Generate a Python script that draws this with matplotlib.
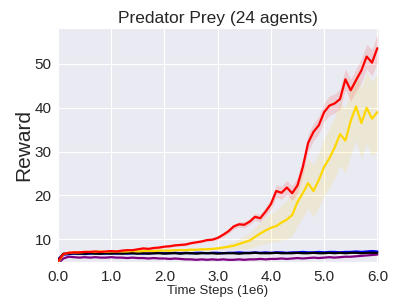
import numpy as np
import matplotlib
matplotlib.use("Agg")
import matplotlib.pyplot as plt
import seaborn as sns

# time steps in millions
steps = [round(0.1 * i, 1) for i in range(61)]

red = [5.0, 6.6, 6.9, 7.0, 7.0, 7.1, 7.1, 7.2, 7.1, 7.2,
       7.3, 7.2, 7.4, 7.5, 7.5, 7.7, 7.9, 7.8, 8.0, 8.1,
       8.3, 8.4, 8.6, 8.7, 8.8, 9.1, 9.3, 9.5, 9.8, 9.9,
       10.3, 11.0, 11.8, 12.9, 13.4, 13.3, 14.0, 15.1, 14.8, 16.3,
       18.0, 21.0, 20.6, 21.8, 20.5, 22.3, 26.5, 32.0, 34.5, 36.0,
       39.0, 40.5, 41.0, 42.0, 46.5, 44.0, 46.3, 48.5, 51.7, 50.3,
       53.6]
red_sd = [0.3] * 30 + [0.4, 0.5, 0.5, 0.6, 0.6, 0.7, 0.7, 0.8, 0.9, 1.0,
                       1.2, 1.4, 1.5, 1.6, 1.7, 1.8, 1.9, 2.0, 2.0, 2.0,
                       2.1, 2.2, 2.2, 2.3, 2.4, 2.5, 2.6, 2.7, 2.8, 3.0,
                       3.2]

gold = [4.8, 6.5, 6.9, 7.0, 7.0, 7.1, 7.1, 7.1, 7.2, 7.1,
        7.2, 7.2, 7.2, 7.2, 7.3, 7.2, 7.3, 7.3, 7.3, 7.4,
        7.4, 7.4, 7.5, 7.5, 7.5, 7.6, 7.6, 7.7, 7.7, 7.8,
        7.9, 8.1, 8.3, 8.5, 8.9, 9.3, 9.7, 10.5, 11.3, 12.0,
        12.6, 13.0, 13.8, 14.5, 15.5, 18.5, 20.5, 22.8, 21.0, 23.5,
        26.5, 28.5, 31.0, 34.0, 32.5, 37.0, 40.3, 36.5, 40.0, 37.5,
        39.0]
gold_sd = [0.2] * 30 + [0.4, 0.5, 0.7, 0.9, 1.2, 1.5, 1.8, 2.2, 2.6, 3.0,
                        3.3, 3.6, 4.0, 4.4, 4.8, 5.2, 5.5, 5.8, 6.0, 6.2,
                        6.5, 6.8, 7.0, 7.2, 7.4, 7.6, 7.8, 8.0, 8.2, 8.5,
                        8.8]

blue = [5.5, 6.4, 6.6, 6.7, 6.7, 6.6, 6.7, 6.8, 6.7, 6.7,
        6.8, 6.7, 6.8, 6.7, 6.8, 6.8, 6.7, 6.8, 6.8, 6.9,
        6.8, 6.8, 6.9, 6.8, 6.9, 6.8, 6.9, 6.9, 6.8, 6.9,
        6.9, 6.8, 6.9, 6.9, 7.0, 6.9, 6.9, 7.0, 6.9, 7.0,
        6.9, 7.0, 7.0, 6.9, 7.0, 7.0, 7.1, 7.0, 7.0, 7.1,
        7.0, 7.1, 7.1, 7.0, 7.1, 7.1, 7.2, 7.1, 7.2, 7.3,
        7.2]
black = [5.2, 6.7, 6.7, 6.8, 6.7, 6.7, 6.8, 6.7, 6.7, 6.8,
         6.7, 6.8, 6.7, 6.8, 6.8, 6.7, 6.8, 6.7, 6.8, 6.8,
         6.7, 6.8, 6.8, 6.7, 6.8, 6.8, 6.7, 6.8, 6.8, 6.8,
         6.7, 6.8, 6.8, 6.8, 6.7, 6.8, 6.8, 6.9, 6.8, 6.8,
         6.8, 6.9, 6.8, 6.8, 6.8, 6.9, 6.8, 6.8, 6.9, 6.8,
         6.8, 6.9, 6.8, 6.9, 6.8, 6.9, 6.9, 6.8, 6.9, 6.9,
         6.9]
purple = [4.5, 5.6, 6.0, 5.9, 5.8, 5.9, 5.8, 5.9, 5.8, 5.8,
          5.9, 5.8, 5.8, 5.7, 5.8, 5.7, 5.7, 5.6, 5.7, 5.6,
          5.6, 5.5, 5.6, 5.5, 5.4, 5.4, 5.3, 5.4, 5.3, 5.4,
          5.3, 5.4, 5.3, 5.3, 5.4, 5.3, 5.4, 5.4, 5.5, 5.4,
          5.5, 5.5, 5.6, 5.5, 5.6, 5.7, 5.6, 5.7, 5.8, 5.7,
          5.8, 5.9, 5.8, 5.9, 6.0, 6.0, 6.1, 6.2, 6.3, 6.4,
          6.5]

sns.set_style("darkgrid")
plt.rcParams["font.family"] = ["Liberation Sans", "DejaVu Sans"]

fig = plt.figure(figsize=(4.07, 3.05), dpi=100)
ax = fig.add_axes([0.140, 0.141, 0.791, 0.767])
x = np.array(steps)

for vals, sd, col in [(gold, gold_sd, "#FFD700"), (red, red_sd, "#FF0000")]:
    v = np.array(vals); s = np.array(sd)
    ax.fill_between(x, v - s, v + s, color=col, alpha=0.12, lw=0)
for vals, col in [(purple, "#800080"), (blue, "#0000FF"), (black, "#000000"),
                  (gold, "#FFD700"), (red, "#FF0000")]:
    ax.plot(x, vals, color=col, lw=1.6)

ax.set_xlim(-0.02, 6.03)
ax.set_ylim(4.8, 58.2)
ax.set_xticks([0, 1, 2, 3, 4, 5, 6])
ax.set_xticklabels([f"{t:.1f}" for t in range(7)])
ax.set_yticks([10, 20, 30, 40, 50])
ax.tick_params(labelsize=11, colors="#262626")
ax.tick_params(axis="x", pad=2)
ax.tick_params(axis="y", pad=0.5)
ax.set_title("Predator Prey (24 agents)", fontsize=12.5, color="#262626", pad=4)
ax.set_xlabel("Time Steps (1e6)", fontsize=9.5, color="#262626", labelpad=1)
ax.set_ylabel("Reward", fontsize=15, color="#262626", labelpad=0.5)

fig.savefig("out.png", dpi=100)
